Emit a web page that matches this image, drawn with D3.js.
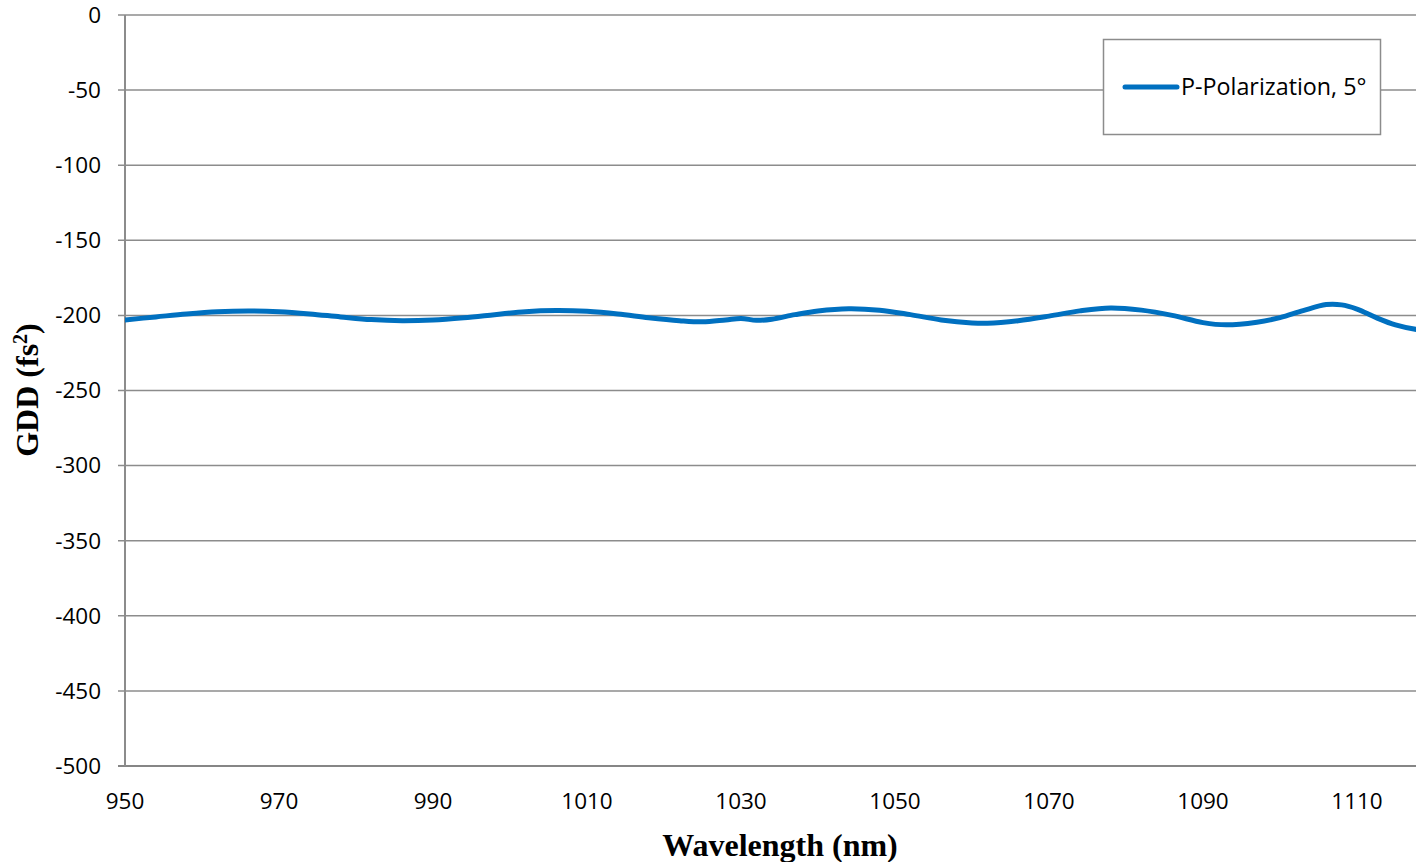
<!DOCTYPE html>
<html><head><meta charset="utf-8">
<script src="https://cdn.jsdelivr.net/npm/d3@7"></script>
<style>body{margin:0;background:#fff}svg{display:block}</style>
</head><body>
<svg id="c" width="1416" height="862"></svg>
<script>
const wavelength = [950,954,958,962,966,970,974,978,982,986,990,994,998,1002,1006,1010,1014,1018,1022,1025,1028,1030,1032,1034,1037,1040,1044,1048,1052,1056,1060,1062,1066,1070,1074,1078,1082,1086,1090,1093,1097,1100,1103,1106,1108,1110,1112.5,1115,1118,1121];
const gdd = [-203,-201,-199,-197.5,-197,-197.5,-199,-201,-202.8,-203.5,-203,-201.5,-199.5,-197.5,-196.8,-197.3,-199,-201.5,-203.5,-204.3,-203,-202,-203.3,-202.5,-199.5,-197,-195.5,-196.5,-199.5,-203,-205,-205.2,-203.5,-200.5,-197,-195,-196.5,-200,-204.8,-206.3,-204.5,-201.5,-196.8,-192.8,-193,-195.8,-201.5,-206.3,-209.6,-211];
const yTicks = [0,-50,-100,-150,-200,-250,-300,-350,-400,-450,-500];
const xTicks = [950,970,990,1010,1030,1050,1070,1090,1110];
const seriesName = "P-Polarization, 5°";

const svg = d3.select("#c");
const x = d3.scaleLinear().domain([950,1150]).range([125,125+200*7.7]);
const y = d3.scaleLinear().domain([-500,0]).range([766,15]);
const xR = 1416;

svg.append("defs").append("clipPath").attr("id","clip")
  .append("rect").attr("x",125).attr("y",0).attr("width",xR-125).attr("height",800);

// grid
svg.append("g").selectAll("line").data(yTicks).join("line")
  .attr("x1",118).attr("x2",xR).attr("y1",d=>y(d)).attr("y2",d=>y(d))
  .attr("stroke",d=>d===-500?"#868686":"#8c8c8c").attr("stroke-width",d=>d===-500?2:1.5);
// y axis line
svg.append("line").attr("x1",125).attr("x2",125).attr("y1",y(0)).attr("y2",y(-500))
  .attr("stroke","#8c8c8c").attr("stroke-width",2);

const tf = "'Open Sans','Noto Sans',sans-serif";
svg.append("g").selectAll("text").data(yTicks).join("text")
  .attr("x",101).attr("y",d=>y(d)).attr("dy","0.35em").attr("text-anchor","end")
  .attr("font-family",tf).attr("font-size",22.5).attr("fill","#000").text(d=>d);
svg.append("g").selectAll("text").data(xTicks).join("text")
  .attr("x",d=>x(d)).attr("y",801).attr("dy","0.35em").attr("text-anchor","middle")
  .attr("font-family",tf).attr("font-size",22.5).attr("fill","#000").text(d=>d);

// line
const pts = wavelength.map((w,i)=>[w,gdd[i]]);
svg.append("path").datum(pts).attr("clip-path","url(#clip)")
  .attr("fill","none").attr("stroke","#0070C0").attr("stroke-width",5)
  .attr("stroke-linejoin","round").attr("stroke-linecap","round")
  .attr("d",d3.line().x(d=>x(d[0])).y(d=>y(d[1])).curve(d3.curveCatmullRom.alpha(0.5)));

// axis titles
const sf = "'Liberation Serif','Times New Roman',serif";
svg.append("text").attr("x",780).attr("y",845).attr("dy","0.35em").attr("text-anchor","middle")
  .attr("font-family",sf).attr("font-weight","bold").attr("font-size",32).text("Wavelength (nm)");
const yt = svg.append("text").attr("transform","translate(27,390) rotate(-90)").attr("dy","0.35em")
  .attr("text-anchor","middle").attr("font-family",sf).attr("font-weight","bold").attr("font-size",32);
yt.append("tspan").text("GDD (fs");
yt.append("tspan").attr("baseline-shift","super").attr("font-size",20).text("2");
yt.append("tspan").text(")");

// legend
const lg = svg.append("g");
lg.append("rect").attr("x",1103.5).attr("y",39.5).attr("width",277).attr("height",95)
  .attr("fill","#fff").attr("stroke","#8c8c8c").attr("stroke-width",1.5);
lg.append("line").attr("x1",1125).attr("x2",1177).attr("y1",87).attr("y2",87)
  .attr("stroke","#0070C0").attr("stroke-width",5).attr("stroke-linecap","round");
lg.append("text").attr("x",1181).attr("y",87).attr("dy","0.35em")
  .attr("font-family",tf).attr("font-size",23.3).text(seriesName);
</script>
</body></html>
